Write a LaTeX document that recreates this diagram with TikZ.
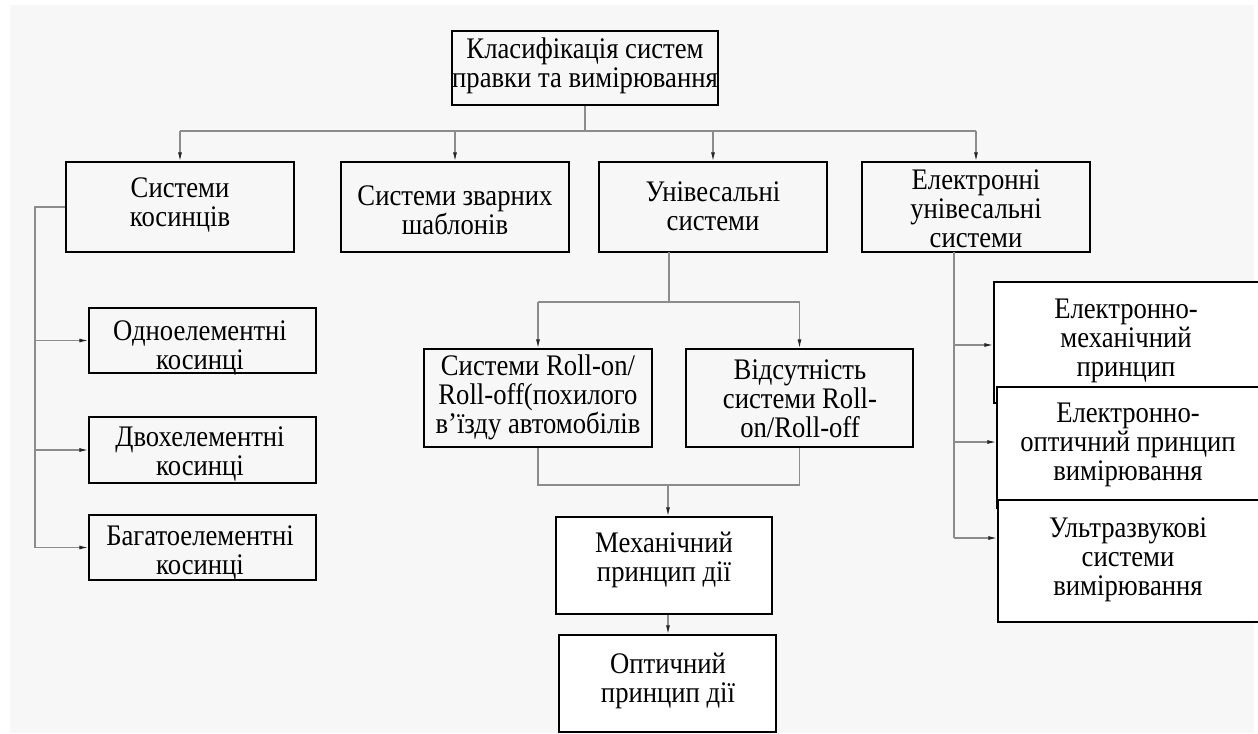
\documentclass[tikz,border=0pt]{standalone}
\usepackage{fontspec}
\setmainfont{Liberation Serif}
\usetikzlibrary{arrows.meta}
\definecolor{bg}{HTML}{F7F7F7}
\definecolor{ln}{HTML}{8C8C8C}
\begin{document}
\begin{tikzpicture}[x=0.75pt,y=-0.75pt,
  box/.style={draw=black,line width=1.4pt,inner sep=0pt,fill=bg},
  wbox/.style={box,fill=white},
  txt/.style={align=center,inner sep=0pt,yscale=1.12,font=\fontsize{20pt}{19.4pt}\selectfont},
  conn/.style={draw=ln,line width=0.8pt},
  arr/.style={conn,-{Latex[length=6.5pt,width=3pt,color=black!85]}}]
\useasboundingbox (0,0) rectangle (1258,733);
\clip (0,0) rectangle (1258,733);
\fill[white] (0,0) rectangle (1258,733);
\fill[bg] (10,5) rectangle (1254,733);

% boxes
\node[box,minimum width=199.5pt,minimum height=55.5pt] (root) at (585,68) {};
\node[txt] (troot) at (585,66) {Класифікація систем\\правки та вимірювання};

\node[box,minimum width=171pt,minimum height=67.5pt] (B1) at (180,207) {};
\node[txt] (tB1) at (180,205) {Системи\\косинців};
\node[box,minimum width=171pt,minimum height=67.5pt] (B2) at (455,207) {};
\node[txt] (tB2) at (455,210) {Системи зварних\\шаблонів};
\node[box,minimum width=171pt,minimum height=67.5pt] (B3) at (713,207) {};
\node[txt] (tB3) at (713,206) {Унівесальні\\системи};
\node[box,minimum width=171pt,minimum height=67.5pt] (B4) at (976,207) {};
\node[txt] (tB4) at (976,209) {Електронні\\унівесальні\\системи};

\node[box,minimum width=170.25pt,minimum height=48.75pt] (L1) at (202.5,340.5) {};
\node[txt] (tL1) at (200,348) {Одноелементні\\косинці};
\node[box,minimum width=170.25pt,minimum height=49.5pt] (L2) at (202.5,450) {};
\node[txt] (tL2) at (200,454) {Двохелементні\\косинці};
\node[box,minimum width=170.25pt,minimum height=48.75pt] (L3) at (202.5,547.5) {};
\node[txt] (tL3) at (200,553) {Багатоелементні\\косинці};

\node[box,minimum width=171pt,minimum height=73.5pt] (R1) at (538,398) {};
\node[txt] (tR1) at (538,397) {Системи Roll-on/\\Roll-off(похилого\\в’їзду автомобілів};
\node[box,minimum width=170.25pt,minimum height=73.5pt] (R2) at (799.5,398) {};
\node[txt] (tR2) at (800,399) {Відсутність\\системи Roll-\\on/Roll-off};

\node[wbox,minimum width=162pt,minimum height=72.75pt] (M) at (664,565.5) {};
\node[txt] (tM) at (664,560) {Механічний\\принцип дії};
\node[wbox,minimum width=162.75pt,minimum height=72.75pt] (O) at (667.5,683.5) {};
\node[txt] (tO) at (668,681) {Оптичний\\принцип дії};

\node[wbox,minimum width=201pt,minimum height=90.75pt] (E1) at (1128,342.5) {};
\node[txt] (tE1) at (1126,341) {Електронно-\\механічний\\принцип};
\node[wbox,minimum width=198.75pt,minimum height=90.75pt] (E2) at (1129.5,447.5) {};
\node[txt] (tE2) at (1128,445) {Електронно-\\оптичний принцип\\вимірювання};
\node[wbox,minimum width=198pt,minimum height=91.5pt] (E3) at (1130,561) {};
\node[txt] (tE3) at (1128,560) {Ультразвукові\\системи\\вимірювання};

% connectors: top level
\coordinate (bus) at (585,131);
\draw[conn] (root.south) -- (bus);
\draw[conn] (B1.north |- bus) -- (B4.north |- bus);
\foreach \n in {B1,B2,B3,B4} \draw[arr] (\n.north |- bus) -- (\n.north);

% left branch
\coordinate (lsp) at (35,207);
\draw[conn] (B1.west) -- (lsp) -- (lsp |- L3.west);
\foreach \n in {L1,L2,L3} \draw[arr] (lsp |- \n.west) -- (\n.west);

% middle branch
\coordinate (u1) at (669,252);
\coordinate (u2) at (669,302);
\draw[conn] (u1) -- (u2);
\draw[conn] (R1.north |- u2) -- (R2.north |- u2);
\draw[arr] (R1.north |- u2) -- (R1.north);
\draw[arr] (R2.north |- u2) -- (R2.north);
\coordinate (j) at (668,485);
\draw[conn] (R1.south) -- (R1.south |- j) -- (R2.south |- j) -- (R2.south);
\draw[arr] (j) -- (j |- M.north);
\draw[arr] (j |- M.south) -- (j |- O.north);

% right branch
\coordinate (rsp) at (954,252);
\coordinate (ra1) at (954,345);
\coordinate (ra2) at (954,442);
\coordinate (ra3) at (954,538);
\draw[conn] (rsp) -- (ra3);
\draw[arr] (ra1) -- (ra1 -| E1.west);
\draw[arr] (ra2) -- (ra2 -| E2.west);
\draw[arr] (ra3) -- (ra3 -| E3.west);
\end{tikzpicture}
\end{document}
